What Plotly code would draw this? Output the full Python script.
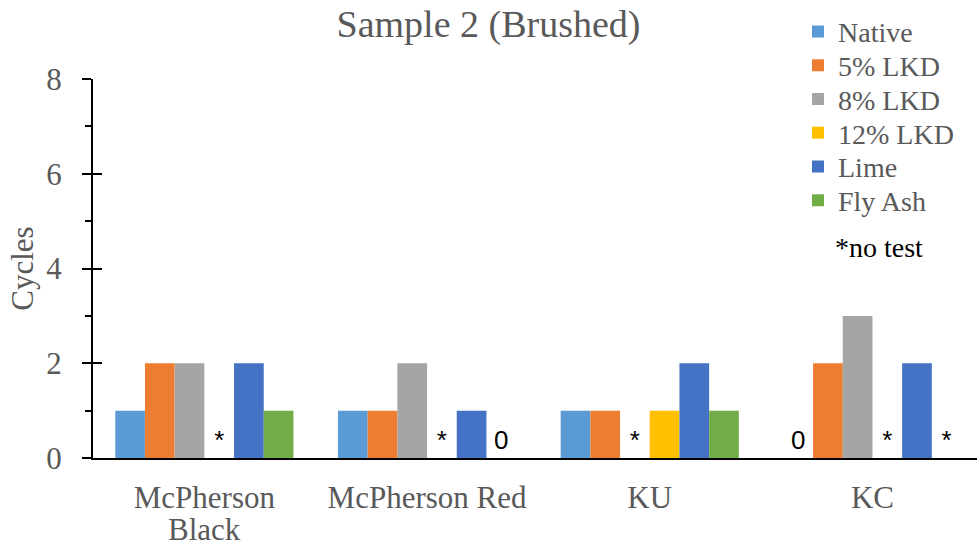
import plotly.graph_objects as go

# Soil samples (x categories) and stabiliser treatments (series)
soils = ["McPherson Black", "McPherson Red", "KU", "KC"]
soil_tick_text = ["McPherson", "McPherson Red", "KU", "KC"]
treatments = ["Native", "5% LKD", "8% LKD", "12% LKD", "Lime", "Fly Ash"]
colors = ["#5B9BD5", "#ED7D31", "#A5A5A5", "#FFC000", "#4472C4", "#70AD47"]

# Cycles survived per treatment; None = no test performed
native = [1, 1, 1, 0]
lkd5 = [2, 1, 1, 2]
lkd8 = [2, 2, None, 3]
lkd12 = [None, None, 1, None]
lime = [2, 1, 2, 2]
fly_ash = [1, 0, 1, None]
series = [native, lkd5, lkd8, lkd12, lime, fly_ash]

y_ticks = [0, 2, 4, 6, 8]

SERIF = "Liberation Serif"
SANS = "Liberation Sans"
GREY = "#595959"

W, H = 977, 546
ML, MR, MT, MB = 93, 0, 79, 88
plot_h = H - MT - MB
plot_w = W - ML - MR
cat_px = 222.7  # width of one category band in pixels


def py(p):
    """pixel row -> paper y"""
    return (H - MB - p) / plot_h


def px(p):
    """pixel column -> paper x"""
    return (p - ML) / plot_w


fig = go.Figure()
legend_rows = [31.7, 65.5, 99.3, 133.0, 166.8, 200.5]
for i, (name, vals, col) in enumerate(zip(treatments, series, colors)):
    heights = [v if v is not None else 0 for v in vals]
    labels = ["*" if v is None else ("0" if v == 0 else "") for v in vals]
    fig.add_trace(go.Bar(
        name=name, x=soils, y=heights, marker=dict(color=col, line=dict(width=0)),
        text=labels, textposition="outside", cliponaxis=False,
        textfont=dict(family=SANS, size=26, color="black"),
        legend="legend" if i == 0 else f"legend{i + 1}",
    ))

# one single-entry legend per treatment so the rows sit close together
legends = {}
for i, row in enumerate(legend_rows):
    key = "legend" if i == 0 else f"legend{i + 1}"
    legends[key] = dict(
        x=px(798), y=py(row), xanchor="left", yanchor="middle",
        font=dict(family=SERIF, size=28, color=GREY),
        bgcolor="rgba(0,0,0,0)", borderwidth=0,
    )

# invisible overlay axis carries the inward half of the major ticks
fig.add_trace(go.Scatter(x=[soils[0]], y=[0], yaxis="y2", mode="markers",
                         marker=dict(opacity=0), showlegend=False, hoverinfo="skip"))

fig.update_layout(
    width=W, height=H,
    margin=dict(l=ML, r=MR, t=MT, b=MB, autoexpand=False),
    paper_bgcolor="white", plot_bgcolor="white",
    barmode="group", bargap=0.2, bargroupgap=0,
    title=dict(text="Sample 2 (Brushed)", x=0.5, xref="container", xanchor="center",
               y=1 - 24 / H, yref="container", yanchor="middle",
               font=dict(family=SERIF, size=38, color=GREY)),
    xaxis=dict(range=[-0.5, -0.5 + plot_w / cat_px], showline=True, linecolor="black",
               linewidth=2, ticks="", showgrid=False, zeroline=False,
               tickvals=soils, ticktext=soil_tick_text,
               tickfont=dict(family=SERIF, size=31, color=GREY),
               ticklabelstandoff=11),
    yaxis=dict(range=[0, 8], tickvals=y_ticks, showline=True, linecolor="black",
               linewidth=2, ticks="outside", ticklen=9, tickwidth=2, tickcolor="black",
               minor=dict(dtick=1, ticks="outside", ticklen=6, tickwidth=2, tickcolor="black"),
               showgrid=False, zeroline=False,
               tickfont=dict(family=SERIF, size=31, color=GREY),
               ticklabelstandoff=14,
               title=dict(text="Cycles", standoff=3,
                          font=dict(family=SERIF, size=31, color=GREY))),
    yaxis2=dict(range=[0, 8], tickvals=y_ticks, overlaying="y", side="left", anchor="x",
                ticks="inside", ticklen=9, tickwidth=2, tickcolor="black",
                showticklabels=False, showline=False, showgrid=False, zeroline=False),
    annotations=[
        dict(text="*no test", x=px(833), y=py(247), xref="paper", yref="paper",
             xanchor="left", yanchor="middle", showarrow=False,
             font=dict(family=SERIF, size=28, color="black")),
        # second line of the first category label
        dict(text="Black", x=soils[0], y=py(529), xref="x", yref="paper",
             xanchor="center", yanchor="middle", showarrow=False,
             font=dict(family=SERIF, size=31, color=GREY)),
    ],
    **legends,
)

fig.write_html("out.html")
